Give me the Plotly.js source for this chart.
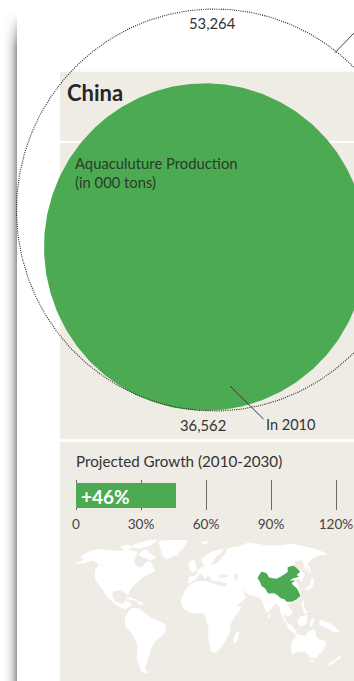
<!DOCTYPE html>
<html>
<head>
<meta charset="utf-8">
<script src="https://cdn.plot.ly/plotly-3.0.1.min.js"></script>
<style>
  html, body { margin: 0; padding: 0; width: 354px; height: 681px; overflow: hidden; background: #fff; }
  #edge { position: absolute; left: 0; top: 0; width: 17px; height: 681px;
          background: linear-gradient(to right, rgba(0,0,0,0) 3px, rgba(0,0,0,0.05) 8px, rgba(0,0,0,0.15) 12px, rgba(0,0,0,0.4) 17px);
          -webkit-mask-image: linear-gradient(to bottom, transparent 13px, black 48px);
          mask-image: linear-gradient(to bottom, transparent 13px, black 48px); }
  #chart { position: absolute; left: 0; top: 0; width: 354px; height: 681px; }
</style>
</head>
<body>
<div id="edge"></div>
<div id="chart"></div>
<script>
// Aquaculture production, China
const country = 'China';
const productionLabel = 'Aquaculuture Production<br>(in 000 tons)';
const production2030 = 53264;
const production2010 = 36562;
const yearLabel = 'In 2010';

// Projected growth scale
const growthTitle = 'Projected Growth (2010-2030)';
const growthValue = [46];
const growthTickVals = [0, 30, 60, 90, 120];
const growthTickText = ['0', '30%', '60%', '90%', '120%'];

// Land outlines, in map grid units (882 wide, 453 tall)
const northAmerica = [[45,100],[70,90],[62,80],[85,66],[110,58],[140,60],[175,63],[205,60],[232,66],[226,82],[222,92],[230,108],[247,112],[255,100],[270,92],[282,115],[285,124],[262,134],[248,142],[237,154],[222,164],[210,180],[204,198],[196,190],[185,182],[160,184],[157,197],[167,215],[190,220],[197,211],[214,222],[197,238],[185,234],[165,222],[140,198],[123,172],[106,150],[106,120],[116,105],[100,92],[75,98]];
const arcticIslands = [[235,75],[255,58],[287,85],[270,90],[250,82]];
const ellesmere = [[215,47],[260,32],[292,30],[272,46],[235,56]];
const banks = [[180,50],[205,45],[218,55],[195,60]];
const greenland = [[295,35],[330,30],[382,32],[374,50],[352,70],[320,87],[305,72],[300,50]];
const cuba = [[195,203],[215,203],[237,214],[215,211]];
const hispaniola = [[232,216],[250,216],[247,224],[232,222]];
const iceland = [[335,68],[352,66],[356,74],[340,77]];
const svalbard = [[425,36],[445,34],[440,42],[428,41]];
const southAmerica = [[195,265],[215,235],[240,237],[270,260],[317,285],[312,310],[282,340],[266,380],[256,415],[265,430],[245,425],[230,385],[233,345],[218,315],[195,285]];
const africa = [[363,210],[380,175],[405,155],[445,155],[470,165],[495,170],[505,200],[520,225],[545,230],[525,260],[510,285],[510,305],[495,335],[470,367],[455,367],[445,325],[445,290],[430,250],[395,250],[370,235]];
const madagascar = [[520,337],[525,315],[538,302],[535,320],[528,340]];
const eurasia = [[385,158],[388,140],[408,137],[412,122],[425,112],[435,108],[427,98],[425,85],[435,78],[460,63],[490,58],[482,72],[468,80],[458,95],[452,104],[470,100],[495,72],[505,55],[540,48],[565,38],[620,46],[660,46],[690,42],[740,50],[775,60],[802,72],[775,77],[755,87],[742,108],[738,125],[732,105],[725,90],[705,95],[702,110],[722,120],[735,135],[725,155],[732,170],[718,148],[707,150],[715,165],[722,195],[702,212],[684,225],[698,247],[685,260],[672,253],[678,277],[688,287],[678,280],[662,250],[658,230],[648,220],[638,230],[622,247],[600,205],[570,195],[545,180],[558,203],[525,227],[508,210],[495,175],[500,160],[475,155],[455,150],[445,135],[437,145],[420,130],[408,147],[390,160]];
const britain = [[385,105],[392,92],[403,92],[410,120],[398,128],[390,118]];
const japan = [[735,177],[750,165],[755,145],[762,150],[758,170],[740,183]];
const sakhalin = [[743,105],[750,110],[750,130],[745,125]];
const philippines = [[725,215],[732,213],[732,230],[742,247],[735,253],[728,237]];
const sumatra = [[678,277],[690,283],[710,307],[702,310],[685,295]];
const borneo = [[720,260],[742,255],[740,280],[722,290],[712,275]];
const java = [[705,313],[745,320],[740,323],[705,317]];
const sulawesi = [[752,270],[762,265],[758,283],[750,293]];
const newGuinea = [[780,270],[810,280],[840,305],[822,307],[800,295],[778,285]];
const sriLanka = [[628,250],[632,260],[624,263]];
const australia = [[695,335],[710,320],[735,320],[745,305],[755,300],[765,300],[772,325],[798,335],[790,360],[765,385],[750,380],[735,365],[710,367],[695,370]];
const tasmania = [[750,390],[760,390],[757,398]];
const newZealand = [[800,405],[825,390],[845,373],[840,385],[815,403]];
const blackSea = [[475,137],[500,133],[505,140],[480,143]];
const caspian = [[525,130],[532,133],[532,150],[523,145]];
const chinaMainland = [[593,145],[605,125],[620,130],[627,142],[650,146],[670,135],[683,125],[683,112],[700,107],[720,125],[710,135],[717,140],[700,145],[690,152],[705,152],[695,160],[710,175],[720,195],[710,208],[695,215],[680,215],[673,208],[663,205],[655,198],[643,190],[625,190],[615,175],[605,168],[600,155]];
const hainan = [[688,208],[694,208],[694,214],[688,214]];
const taiwan = [[716,193],[720,193],[720,200],[716,200]];

const landWest = [northAmerica, arcticIslands, ellesmere, banks, greenland, cuba, hispaniola, iceland, svalbard, southAmerica];
const landEast = [africa, madagascar, eurasia, britain, japan, sakhalin, philippines, sumatra, borneo, java, sulawesi, newGuinea, sriLanka, australia, tasmania, newZealand];
const inlandSeas = [blackSea, caspian];
const chinaShapes = [chinaMainland, hainan, taiwan];

// Colours
const green = '#4cab52';
const panel = '#efece6';
const ink = '#333333';
const W = 354, H = 681;

// Merge polygons into one trace, separated by gaps
function polygons(list, color) {
  const x = [], y = [];
  list.forEach(p => { p.forEach(c => { x.push(c[0]); y.push(c[1]); }); x.push(p[0][0], null); y.push(p[0][1], null); });
  return { type: 'scatter', mode: 'lines', x, y, xaxis: 'x3', yaxis: 'y3', fill: 'toself', fillcolor: color,
           line: { width: 0, color, shape: 'spline', smoothing: 0.5 }, hoverinfo: 'skip' };
}

// Bubbles: one radius scale drives both, slightly taller than wide
const radiusScale = 0.5257, radiusPower = 0.545, verticalStretch = 1.015;
function bubble(value, cx, cy) {
  const r = radiusScale * Math.pow(value, radiusPower);
  const x = [], y = [];
  for (let deg = 0; deg <= 360; deg += 1) {
    const a = deg * Math.PI / 180;
    x.push(cx + r * Math.cos(a));
    y.push(cy + verticalStretch * r * Math.sin(a));
  }
  return { x, y };
}
const inner = bubble(production2010, 205.3, 247);
const outer = bubble(production2030, 214.5, 210);

const traces = [
  { type: 'scatter', mode: 'lines', x: inner.x, y: inner.y, fill: 'toself', fillcolor: green,
    line: { width: 0, color: green }, hoverinfo: 'skip' },
  { type: 'scatter', mode: 'lines', x: outer.x, y: outer.y,
    line: { width: 1.1, color: '#222222', dash: '1px,1.2px' }, hoverinfo: 'skip' },
  { type: 'bar', orientation: 'h', x: growthValue, y: [0], xaxis: 'x2', yaxis: 'y2', width: 25.3,
    marker: { color: green, line: { width: 0 } }, hoverinfo: 'skip' },
  polygons(landWest, '#ffffff'),
  polygons(landEast, '#ffffff'),
  polygons(inlandSeas, panel),
  polygons(chinaShapes, green)
];

const hidden = { showgrid: false, zeroline: false, showticklabels: false, ticks: '', showline: false, fixedrange: true };
const sans = 'Lato, "Open Sans", sans-serif';

function label(text, x, y, size, opts) {
  return Object.assign({ text, x, y, xref: 'x', yref: 'y', showarrow: false, xanchor: 'left', yanchor: 'middle',
    align: 'left', borderpad: 0, borderwidth: 0, font: { family: sans, size, color: ink } }, opts || {});
}

const layout = {
  width: W, height: H, margin: { l: 0, r: 0, t: 0, b: 0, pad: 0 },
  paper_bgcolor: 'rgba(0,0,0,0)', plot_bgcolor: 'rgba(0,0,0,0)', showlegend: false, bargap: 0,
  xaxis: Object.assign({}, hidden, { domain: [0, 1], range: [0, W] }),
  yaxis: Object.assign({}, hidden, { domain: [0, 1], range: [H, 0] }),
  xaxis2: { anchor: 'y2', domain: [76 / W, 1], range: [0, 30 * (W - 76) / 65], tickmode: 'array',
    tickvals: growthTickVals, ticktext: growthTickText, showgrid: true, gridcolor: '#6a6a66', gridwidth: 1,
    zeroline: true, zerolinecolor: '#6a6a66', zerolinewidth: 1, showline: false, ticks: 'outside', ticklen: 2,
    tickcolor: 'rgba(0,0,0,0)', tickfont: { family: sans, size: 13.6, color: '#444444' }, fixedrange: true, layer: 'below traces' },
  yaxis2: Object.assign({}, hidden, { anchor: 'x2', domain: [(H - 510) / H, (H - 480) / H], range: [-14.65, 15.35] }),
  xaxis3: Object.assign({}, hidden, { anchor: 'y3', domain: [60 / W, 1], range: [0, 882] }),
  yaxis3: Object.assign({}, hidden, { anchor: 'x3', domain: [0, 151 / H], range: [453, 0] }),
  shapes: [
    { type: 'rect', xref: 'paper', yref: 'paper', x0: 60 / W, x1: 1, y0: 0, y1: (H - 71.7) / H, fillcolor: panel, line: { width: 0 }, layer: 'below' },
    { type: 'rect', xref: 'paper', yref: 'paper', x0: 60 / W, x1: 1, y0: (H - 143) / H, y1: (H - 140.8) / H, fillcolor: '#ffffff', line: { width: 0 }, layer: 'below' },
    { type: 'rect', xref: 'paper', yref: 'paper', x0: 60 / W, x1: 1, y0: (H - 441.8) / H, y1: (H - 439.3) / H, fillcolor: '#ffffff', line: { width: 0 }, layer: 'below' },
    { type: 'line', xref: 'x', yref: 'y', x0: 335, y0: 52.7, x1: 354, y1: 33, line: { color: '#444444', width: 1 } },
    { type: 'line', xref: 'x', yref: 'y', x0: 230, y0: 386, x1: 263.5, y1: 419, line: { color: '#333333', width: 1 } }
  ],
  annotations: [
    label(production2030.toLocaleString('en-US'), 212.5, 22.5, 14.8, { xanchor: 'center' }),
    label(country, 67, 92.5, 22, { font: { family: sans, size: 22, color: '#262626', weight: 700 } }),
    label(productionLabel, 74.5, 172, 14.8, { font: { family: sans, size: 14.8, color: '#2b3a2c' } }),
    label(production2010.toLocaleString('en-US'), 203, 424.5, 14.8, { xanchor: 'center' }),
    label(yearLabel, 266, 424.5, 14.5),
    label(growthTitle, 75.5, 461, 15.2),
    label('+' + growthValue[0] + '%', 81, 496, 19, { font: { family: sans, size: 19, color: '#ffffff', weight: 700 } })
  ]
};

Plotly.newPlot('chart', traces, layout, { displayModeBar: false, staticPlot: true, responsive: false });
</script>
</body>
</html>
